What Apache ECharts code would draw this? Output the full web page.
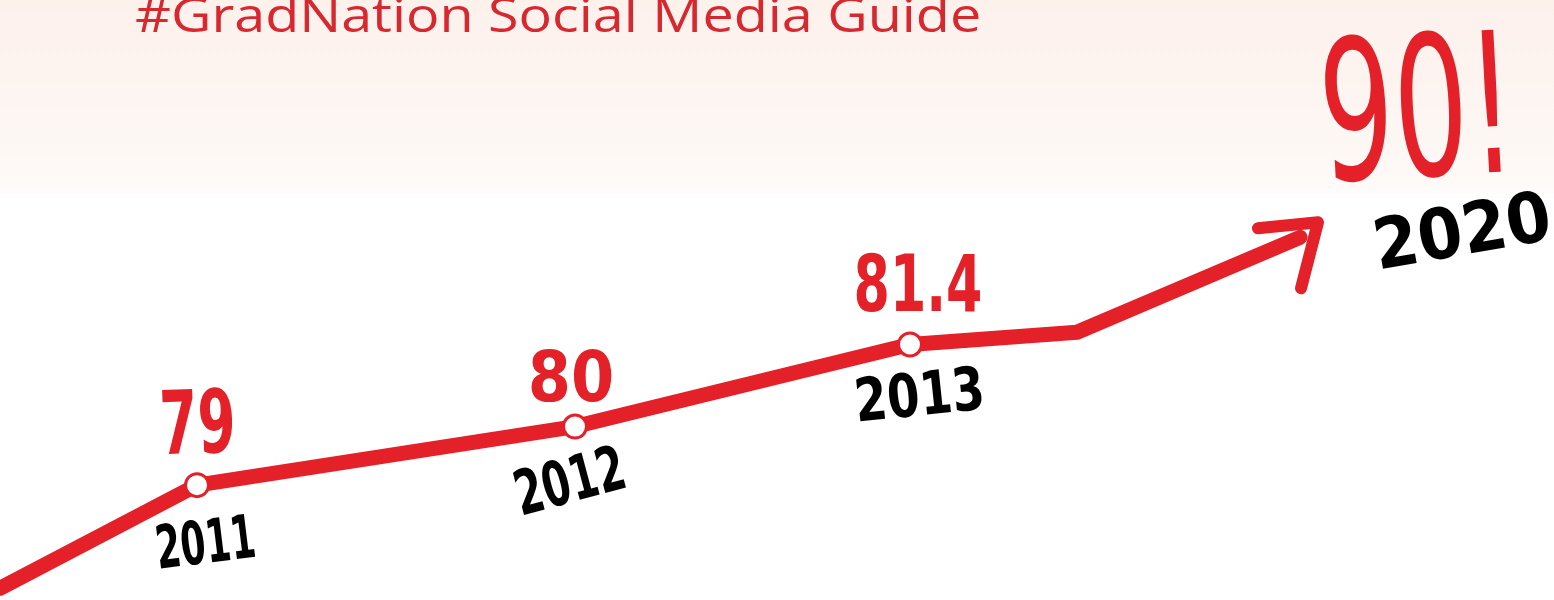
<!DOCTYPE html>
<html>
<head>
<meta charset="utf-8">
<script src="https://cdn.jsdelivr.net/npm/echarts@6/dist/echarts.min.js"></script>
<style>
html,body{margin:0;padding:0;background:#fff;}
#chart{width:1554px;height:600px;}
</style>
</head>
<body>
<div id="chart"></div>
<script>
// ---- data ----
const titleText = '#GradNation Social Media Guide';
const xStops = [0, 1.97, 5.75, 9.10, 10.77, 13.0];          // position along the drawn timeline
const rates = [77.24, 79, 80, 81.4, 81.61, 83.23];           // plotted heights
const valueLabels = ['', '79', '80', '81.4', '', '90!'];
const yearLabels = ['', '2011', '2012', '2013', '', '2020'];
const markedPoints = [false, true, true, true, false, false];

// ---- styles ----
const RED = '#e42028';
const INK = '#000000';
const handFont = '"DejaVu Sans", sans-serif';
// per-label placement: dx, dy (px from the point), font size, rotation (deg), horizontal squeeze, weight
const valueStyle = [
  null,
  {dx: 1, dy: -55, size: 88, rot: 2, sx: 0.62, w: 'bold'},
  {dx: -4, dy: -43, size: 69, rot: 0, sx: 0.9, w: 'bold'},
  {dx: 8, dy: -54, size: 78, rot: 0, sx: 0.67, w: 'bold'},
  null,
  {dx: 118, dy: -112, size: 195, rot: 3, sx: 0.6, w: 'normal'}
];
const yearStyle = [
  null,
  {dx: 9, dy: 62, size: 60, rot: 7, sx: 0.6, w: 'bold'},
  {dx: -4, dy: 59, size: 62, rot: 15, sx: 0.65, w: 'bold'},
  {dx: 10, dy: 55, size: 60, rot: 6, sx: 0.78, w: 'bold'},
  null,
  {dx: 163, dy: -1, size: 70, rot: 10, sx: 0.92, w: 'bold'}
];

const points = xStops.map((x, i) => [x, rates[i], i]);

const lineData = points.map((p, i) => {
  const item = {value: [p[0], p[1]]};
  if (!markedPoints[i]) item.symbol = 'none';
  return item;
});

function labelRenderer(texts, styles, color) {
  return function (params, api) {
    const i = api.value(2);
    const st = styles[i];
    if (!st || !texts[i]) return null;
    const p = api.coord([api.value(0), api.value(1)]);
    return {
      type: 'text',
      x: p[0] + st.dx, y: p[1] + st.dy,
      rotation: st.rot * Math.PI / 180,
      scaleX: st.sx, scaleY: 1,
      style: {
        text: texts[i], fill: color,
        fontSize: st.size, fontFamily: handFont, fontWeight: st.w,
        align: 'center', verticalAlign: 'middle'
      }
    };
  };
}

const chart = echarts.init(document.getElementById('chart'), null, {renderer: 'canvas'});
chart.setOption({
  animation: false,
  backgroundColor: '#ffffff',
  graphic: [
    {
      type: 'rect', left: 0, top: 0, z: -10, silent: true,
      shape: {width: 1554, height: 200},
      style: {
        fill: new echarts.graphic.LinearGradient(0, 0, 0, 1, [
          {offset: 0, color: '#fdf1ec'},
          {offset: 0.6, color: '#fdf6f2'},
          {offset: 0.92, color: '#fefaf8'},
          {offset: 1, color: '#ffffff'}
        ])
      }
    },
    {
      type: 'text', x: 135, y: -6, scaleX: 1.16, z: 10, silent: true,
      style: {
        text: titleText, fill: '#d7282f',
        fontFamily: '"Open Sans", sans-serif', fontSize: 48, fontWeight: 'normal',
        align: 'left', verticalAlign: 'top'
      }
    }
  ],
  grid: {left: 0, right: 0, top: 0, bottom: 0, containLabel: false},
  xAxis: {type: 'value', min: 0, max: 15.54, show: false},
  yAxis: {type: 'value', min: 77.04, max: 87.28, show: false},
  series: [
    {
      type: 'line', data: lineData, z: 3,
      symbol: 'circle', symbolSize: 23,
      itemStyle: {color: '#ffffff', borderColor: RED, borderWidth: 3},
      lineStyle: {color: RED, width: 15, cap: 'round', join: 'round'},
      label: {show: false}
    },
    {
      type: 'custom', z: 3,
      data: [[xStops[xStops.length - 1], rates[rates.length - 1]]],
      renderItem: function (params, api) {
        const p = api.coord([api.value(0), api.value(1)]);
        return {
          type: 'polyline',
          shape: {points: [[p[0] - 42, p[1] - 9], [p[0] + 18, p[1] - 15], [p[0] + 1, p[1] + 51]]},
          style: {stroke: RED, lineWidth: 12, fill: null, lineJoin: 'round', lineCap: 'round'}
        };
      }
    },
    {
      type: 'custom', z: 5, data: points,
      renderItem: labelRenderer(valueLabels, valueStyle, RED)
    },
    {
      type: 'custom', z: 5, data: points,
      renderItem: labelRenderer(yearLabels, yearStyle, INK)
    }
  ]
});
</script>
</body>
</html>
